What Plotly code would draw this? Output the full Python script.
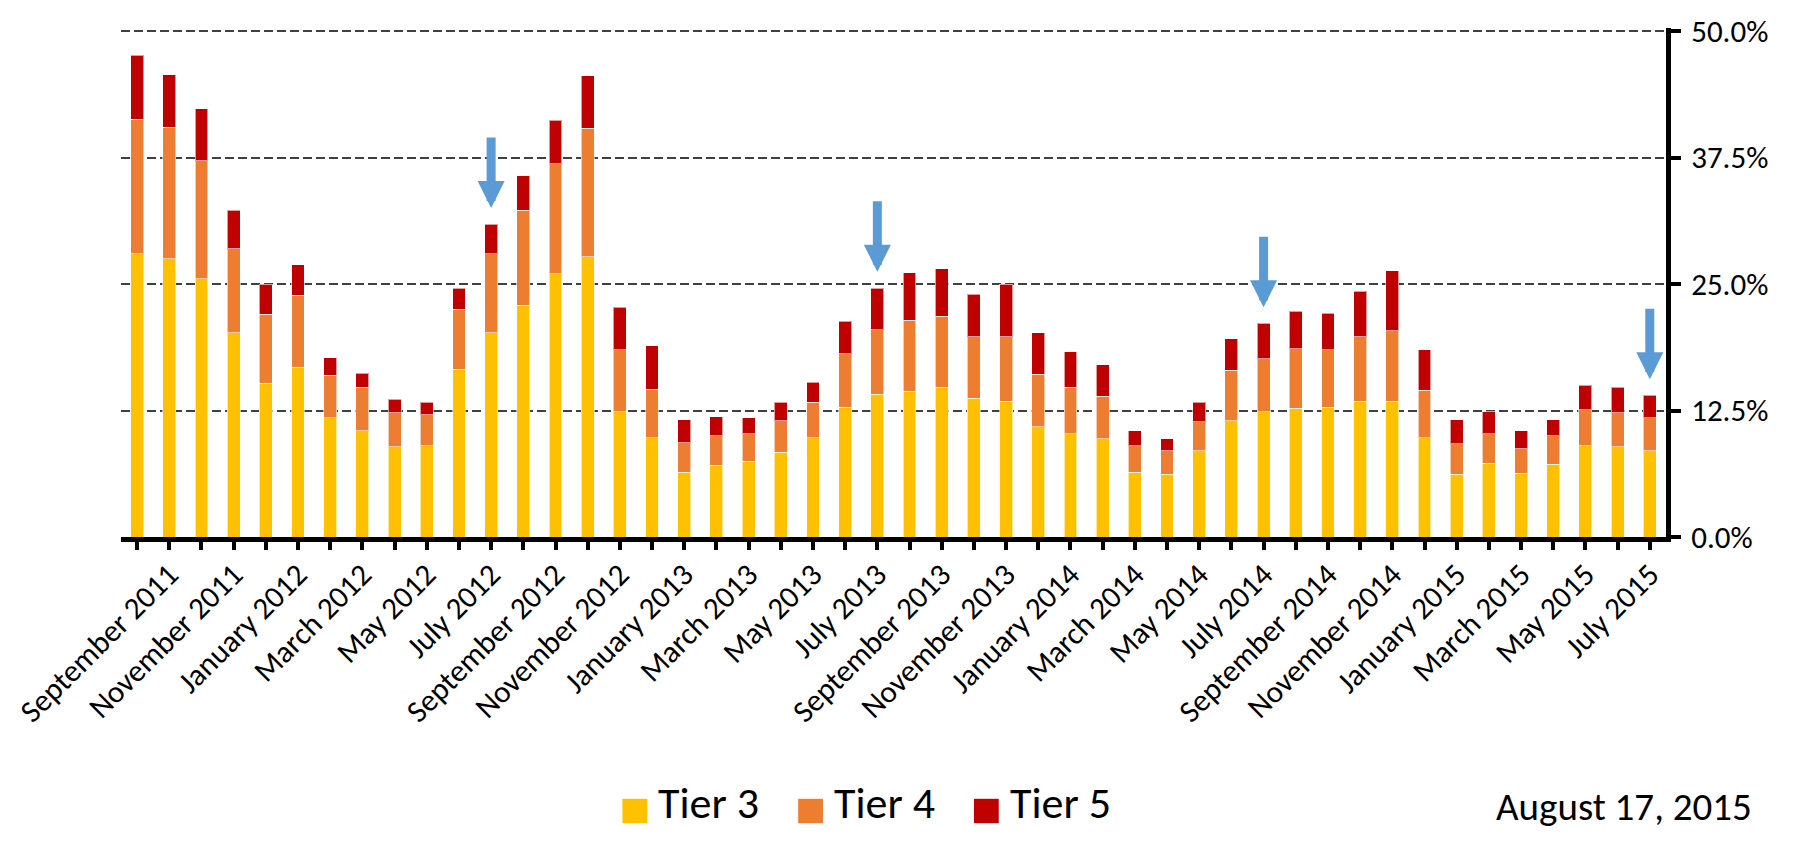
import plotly.graph_objects as go

months = [
    "August 2011", "September 2011", "October 2011", "November 2011", "December 2011",
    "January 2012", "February 2012", "March 2012", "April 2012", "May 2012", "June 2012",
    "July 2012", "August 2012", "September 2012", "October 2012", "November 2012", "December 2012",
    "January 2013", "February 2013", "March 2013", "April 2013", "May 2013", "June 2013",
    "July 2013", "August 2013", "September 2013", "October 2013", "November 2013", "December 2013",
    "January 2014", "February 2014", "March 2014", "April 2014", "May 2014", "June 2014",
    "July 2014", "August 2014", "September 2014", "October 2014", "November 2014", "December 2014",
    "January 2015", "February 2015", "March 2015", "April 2015", "May 2015", "June 2015",
    "July 2015",
]

tier3 = [28.0, 27.5, 25.5, 20.2, 15.2, 16.8, 11.8, 10.5, 8.9, 9.0, 16.6, 20.2,
         22.9, 26.0, 27.7, 12.4, 9.8, 6.4, 7.1, 7.5, 8.4, 9.8, 12.8, 14.1,
         14.4, 14.8, 13.7, 13.4, 10.9, 10.2, 9.7, 6.4, 6.2, 8.5, 11.5, 12.4,
         12.7, 12.8, 13.4, 13.4, 9.8, 6.2, 7.3, 6.3, 7.2, 9.0, 8.9, 8.5]
tier4 = [13.3, 13.0, 11.7, 8.3, 6.8, 7.1, 4.2, 4.3, 3.4, 3.1, 5.9, 7.8,
         9.4, 10.9, 12.7, 6.1, 4.8, 2.9, 2.9, 2.7, 3.1, 3.5, 5.3, 6.4,
         7.0, 7.0, 6.1, 6.4, 5.2, 4.6, 4.2, 2.6, 2.3, 2.9, 5.0, 5.2,
         5.9, 5.7, 6.4, 7.0, 4.7, 3.0, 2.9, 2.4, 2.8, 3.6, 3.4, 3.3]
tier5 = [6.3, 5.2, 5.1, 3.8, 3.0, 3.0, 1.7, 1.4, 1.3, 1.2, 2.1, 2.9,
         3.4, 4.3, 5.2, 4.2, 4.3, 2.3, 1.9, 1.6, 1.8, 2.0, 3.2, 4.1,
         4.7, 4.7, 4.2, 5.2, 4.1, 3.5, 3.1, 1.5, 1.2, 1.9, 3.1, 3.5,
         3.7, 3.6, 4.5, 5.9, 4.0, 2.4, 2.2, 1.8, 1.6, 2.4, 2.5, 2.2]

tier_names = ["Tier 3", "Tier 4", "Tier 5"]
tier_colors = ["#FFC000", "#ED7D31", "#C00000"]

arrow_months = ["July 2012", "July 2013", "July 2014", "July 2015"]

y_ticks = [0, 12.5, 25, 37.5, 50]
y_ticktext = ["0.0%", "12.5%", "25.0%", "37.5%", "50.0%"]
date_label = "August 17, 2015"

FONT = "Calibri, Carlito, Lato, sans-serif"
W, H = 1798, 841
L, R, T, B = 110, 132, 14, 304


def paper_x(px):
    return (px - L) / (W - L - R)


def paper_y(py):
    return (H - B - py) / (H - T - B)


fig = go.Figure()
for name, vals, color in zip(tier_names, [tier3, tier4, tier5], tier_colors):
    fig.add_trace(go.Bar(
        x=months, y=vals, name=name,
        marker=dict(color=color, line=dict(color="rgba(255,255,255,0.6)", width=1)),
        showlegend=False,
    ))

# blue arrows above each July bar
for m in arrow_months:
    i = months.index(m)
    total = tier3[i] + tier4[i] + tier5[i]
    fig.add_annotation(
        x=m, y=total + 1.6, ax=0, ay=-72, text="",
        showarrow=True, arrowhead=2, arrowsize=0.6, arrowwidth=9,
        arrowcolor="#5B9BD5", standoff=0,
    )

# custom legend with large squares
sq_left = [615, 792, 969]
for name, color, x0 in zip(tier_names, tier_colors, sq_left):
    fig.add_shape(
        type="rect", xref="paper", yref="paper",
        x0=paper_x(x0), x1=paper_x(x0 + 25),
        y0=paper_y(831), y1=paper_y(806),
        fillcolor=color, line=dict(width=0),
    )
    fig.add_annotation(
        xref="paper", yref="paper", x=paper_x(x0 + 34), y=paper_y(840),
        xanchor="left", yanchor="bottom", text=name, showarrow=False,
        font=dict(family=FONT, size=44, color="black"),
    )

fig.add_annotation(
    xref="paper", yref="paper", x=paper_x(1493), y=paper_y(840),
    xanchor="left", yanchor="bottom", text=date_label, showarrow=False,
    font=dict(family=FONT, size=39, color="black"),
)

ticktext = [m if i % 2 == 1 else "" for i, m in enumerate(months)]

fig.update_layout(
    barmode="stack",
    bargap=0.6,
    width=W, height=H,
    margin=dict(l=L, r=R, t=T, b=B, pad=0),
    plot_bgcolor="white",
    paper_bgcolor="white",
    font=dict(family=FONT, color="black"),
    xaxis=dict(
        tickmode="array", tickvals=months, ticktext=ticktext,
        tickangle=-45, tickfont=dict(size=31),
        showline=True, linecolor="black", linewidth=5,
        ticks="outside", ticklen=8, tickwidth=4, tickcolor="black",
        ticklabelstandoff=-6,
        showgrid=False, zeroline=False,
    ),
    yaxis=dict(
        side="right", range=[0, 50.3],
        tickmode="array", tickvals=y_ticks, ticktext=y_ticktext,
        tickfont=dict(size=31), ticklabeloverflow="allow",
        showline=True, linecolor="black", linewidth=5,
        ticks="outside", ticklen=10, tickwidth=4, tickcolor="black",
        ticklabelstandoff=4,
        showgrid=True, gridcolor="#404040", gridwidth=2, griddash="9px,4px",
        zeroline=False,
    ),
)

fig.write_html("out.html", config={"displayModeBar": False},
               post_script="document.body.style.margin='0';")
